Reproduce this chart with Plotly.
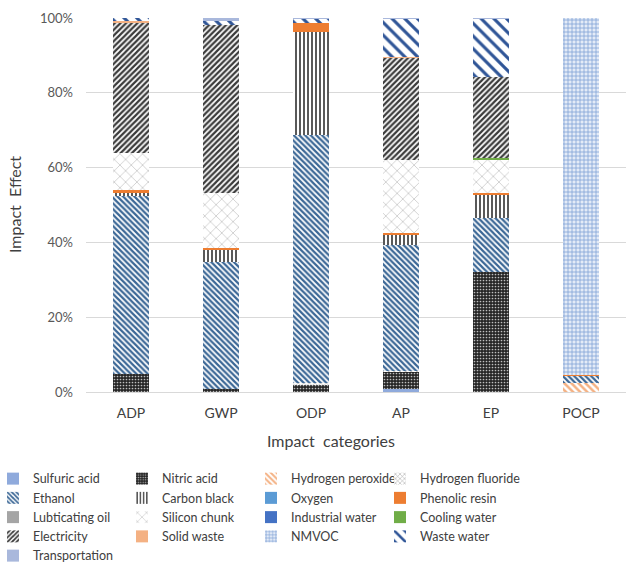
import plotly.graph_objects as go

# Impact categories on the x axis
categories = ["ADP", "GWP", "ODP", "AP", "EP", "POCP"]

# Contribution of each input/output to every impact category (%)
sulfuric_acid = [0.0, 0.0, 0.0, 0.8, 0.0, 0.0]
nitric_acid = [4.9, 0.7, 2.0, 4.6, 32.2, 0.0]
hydrogen_peroxide = [0.0, 0.0, 0.0, 0.0, 0.0, 2.5]
hydrogen_fluoride = [0.0, 0.0, 0.3, 0.3, 0.0, 0.0]
ethanol = [47.6, 34.1, 66.4, 33.6, 14.2, 1.8]
carbon_black = [0.6, 3.2, 27.6, 2.7, 6.4, 0.0]
oxygen = [0.0, 0.0, 0.0, 0.0, 0.0, 0.0]
phenolic_resin = [0.9, 0.4, 2.4, 0.4, 0.3, 0.3]
lubricating_oil = [0.0, 0.0, 0.0, 0.0, 0.0, 0.0]
silicon_chunk = [9.8, 14.9, 0.0, 19.6, 9.1, 0.0]
industrial_water = [0.0, 0.0, 0.0, 0.0, 0.0, 0.0]
cooling_water = [0.0, 0.0, 0.0, 0.0, 0.3, 0.0]
electricity = [35.1, 44.8, 0.0, 27.5, 21.6, 0.0]
solid_waste = [0.2, 0.0, 0.0, 0.2, 0.0, 0.0]
nmvoc = [0.0, 0.0, 0.0, 0.0, 0.0, 95.4]
waste_water = [0.9, 1.2, 1.1, 10.1, 15.7, 0.0]
transportation = [0.0, 0.7, 0.2, 0.2, 0.2, 0.0]

y_ticks = [0, 20, 40, 60, 80, 100]
y_tick_labels = ["0%", "20%", "40%", "60%", "80%", "100%"]

# name, values, fill colour, pattern (shape, fg, bg, size, solidity)
series = [
    ("Sulfuric acid", sulfuric_acid, "#8FAADC", None),
    ("Nitric acid", nitric_acid, "#3A3A3A", (".", "#BFBFBF", "#262626", 3, 0.25)),
    ("Hydrogen peroxide", hydrogen_peroxide, "#F4B183", ("\\", "#F4B183", "#FFFFFF", 5, 0.5)),
    ("Hydrogen fluoride", hydrogen_fluoride, "#A5A5A5", ("x", "#A5A5A5", "#FFFFFF", 4, 0.3)),
    ("Ethanol", ethanol, "#41719C", ("\\", "#3B6796", "#FFFFFF", 4, 0.55)),
    ("Carbon black", carbon_black, "#595959", ("|", "#595959", "#FFFFFF", 4, 0.5)),
    ("Oxygen", oxygen, "#5B9BD5", None),
    ("Phenolic resin", phenolic_resin, "#ED7D31", None),
    ("Lubticating oil", lubricating_oil, "#A5A5A5", None),
    ("Silicon chunk", silicon_chunk, "#A6A6A6", ("x", "#A6A6A6", "#FFFFFF", 8, 0.12)),
    ("Industrial water", industrial_water, "#4472C4", None),
    ("Cooling water", cooling_water, "#70AD47", None),
    ("Electricity", electricity, "#404040", ("/", "#3A3A3A", "#FFFFFF", 4, 0.55)),
    ("Solid waste", solid_waste, "#F4B183", None),
    ("NMVOC", nmvoc, "#A9BCE4", ("+", "#7F9FD6", "#E4EBF7", 4, 0.35)),
    ("Waste water", waste_water, "#2F5597", ("\\", "#2F5597", "#FFFFFF", 9, 0.35)),
    ("Transportation", transportation, "#A9B8DC", None),
]

# Legend entries are laid out row by row over four columns
legend_ids = ["legend", "legend2", "legend3", "legend4"]

fig = go.Figure()
for i, (name, vals, color, pat) in enumerate(series):
    marker = dict(color=color, line=dict(width=0))
    if pat is not None:
        shape, fg, bg, size, solidity = pat
        marker["pattern"] = dict(shape=shape, fgcolor=fg, bgcolor=bg,
                                 size=size, solidity=solidity, fillmode="replace")
    fig.add_trace(go.Bar(x=categories, y=vals, name=name, marker=marker,
                         legend=legend_ids[i % 4]))

font_family = "Lato, 'Liberation Sans', sans-serif"

plot_left, plot_w = 86, 540
col_text_x = [33, 162, 291, 420]


def legend_box(text_x):
    return dict(
        orientation="v",
        traceorder="normal",
        x=(text_x - 40 - plot_left) / plot_w,
        xanchor="left",
        y=-0.1925,
        yanchor="top",
        bgcolor="rgba(0,0,0,0)",
        font=dict(size=12.5, color="#404040"),
        itemclick=False,
        tracegroupgap=0,
    )


fig.update_layout(
    width=626,
    height=566,
    barmode="stack",
    bargap=0.6,
    plot_bgcolor="white",
    paper_bgcolor="white",
    margin=dict(l=plot_left, r=0, t=18, b=174, autoexpand=False),
    font=dict(family=font_family, color="#404040"),
    showlegend=True,
    legend=legend_box(col_text_x[0]),
    legend2=legend_box(col_text_x[1]),
    legend3=legend_box(col_text_x[2]),
    legend4=legend_box(col_text_x[3]),
    xaxis=dict(
        showgrid=False,
        showline=True,
        linecolor="#D9D9D9",
        linewidth=1,
        ticks="",
        tickfont=dict(size=14, color="#404040"),
        ticklabelstandoff=8,
    ),
    yaxis=dict(
        range=[0, 100],
        tickvals=y_ticks,
        ticktext=y_tick_labels,
        showgrid=True,
        gridcolor="#D9D9D9",
        gridwidth=1,
        zeroline=False,
        showline=False,
        ticks="",
        tickfont=dict(size=13, color="#595959"),
        ticklabelstandoff=12,
    ),
    annotations=[
        dict(text="Impact\u00a0 categories", x=0.4537, y=-0.131, xref="paper", yref="paper",
             showarrow=False, xanchor="center", yanchor="middle",
             font=dict(size=16, color="#404040")),
        dict(text="Impact\u00a0 Effect", x=-0.1333, y=0.5, xref="paper", yref="paper",
             showarrow=False, xanchor="center", yanchor="middle", textangle=-90,
             font=dict(size=16, color="#404040")),
    ],
)

fig.write_html("out.html")
